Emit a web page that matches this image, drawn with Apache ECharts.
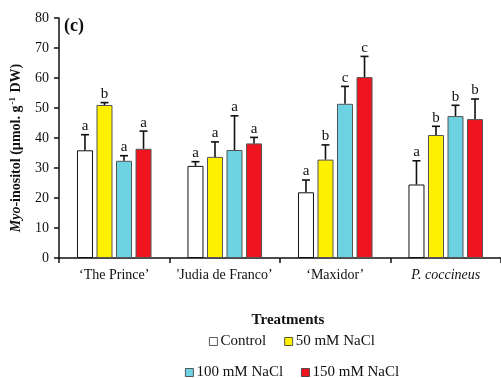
<!DOCTYPE html>
<html>
<head>
<meta charset="utf-8">
<script src="https://cdn.jsdelivr.net/npm/echarts@6/dist/echarts.min.js"></script>
<style>
  html, body { margin: 0; padding: 0; background: #fff; }
  #chart { width: 501px; height: 378px; }
</style>
</head>
<body>
<div id="chart"></div>
<script>
// Cultivars on the x axis
const categories = ['\u2018The Prince\u2019', '\'Judia de Franco\u2019', '\u2018Maxidor\u2019', 'P. coccineus'];

// Treatment names
const treatments = ['Control', '50 mM NaCl', '100 mM NaCl', '150 mM NaCl'];

// Mean myo-inositol (µmol g-1 DW) per treatment, one value per cultivar
const controlMean = [35.9, 30.7, 21.9, 24.5];
const nacl50Mean  = [51.0, 33.7, 32.8, 41.0];
const nacl100Mean = [32.4, 36.0, 51.4, 47.3];
const nacl150Mean = [36.4, 38.2, 60.3, 46.3];

// Standard deviation (upper whisker length)
const controlSd = [5.2, 1.4, 4.1, 7.9];
const nacl50Sd  = [0.8, 5.0, 4.9, 2.9];
const nacl100Sd = [1.7, 11.4, 5.8, 3.6];
const nacl150Sd = [5.9, 2.0, 6.9, 6.7];

// Significance letters
const controlLetters = ['a', 'a', 'a', 'a'];
const nacl50Letters  = ['b', 'a', 'b', 'b'];
const nacl100Letters = ['a', 'a', 'c', 'b'];
const nacl150Letters = ['a', 'a', 'c', 'b'];

const yTicks = { min: 0, max: 80, interval: 10 };

const means = [controlMean, nacl50Mean, nacl100Mean, nacl150Mean];
const sds = [controlSd, nacl50Sd, nacl100Sd, nacl150Sd];
const letters = [controlLetters, nacl50Letters, nacl100Letters, nacl150Letters];
const colors = ['#ffffff', '#fff000', '#6dd3e3', '#f0141e'];
const borders = ['#111111', '#555555', '#555555', '#555555'];

const FONT = '"Liberation Serif", "Times New Roman", serif';
const BAR_W = 16;
const BAR_GAP = 0.22;

const chart = echarts.init(document.getElementById('chart'), null, { renderer: 'canvas' });

const barSeries = treatments.map((name, i) => ({
  name: name,
  type: 'bar',
  barWidth: BAR_W,
  barGap: (BAR_GAP * 100) + '%',
  data: means[i],
  itemStyle: { color: colors[i], borderColor: borders[i], borderWidth: 1 },
  emphasis: { disabled: true },
  z: 2
}));

// Upper error whiskers and letters, placed over each bar
const errSeries = treatments.map((name, i) => ({
  type: 'custom',
  silent: true,
  z: 3,
  data: means[i].map((m, j) => [j, m, +(m + sds[i][j]).toFixed(2)]),
  renderItem: function (params, api) {
    const step = BAR_W * (1 + BAR_GAP);
    const offset = (i - 1.5) * step;
    const base = api.coord([api.value(0), api.value(1)]);
    const top = api.coord([api.value(0), api.value(2)]);
    const x = base[0] + offset;
    const ls = { stroke: '#111', lineWidth: 1.6 };
    return {
      type: 'group',
      children: [
        { type: 'line', shape: { x1: x, y1: base[1], x2: x, y2: top[1] }, style: ls },
        { type: 'line', shape: { x1: x - 4, y1: top[1], x2: x + 4, y2: top[1] }, style: ls },
        {
          type: 'text',
          style: {
            x: x, y: top[1] - 1,
            text: letters[i][params.dataIndex],
            font: '15px ' + FONT,
            fill: '#111',
            align: 'center',
            verticalAlign: 'bottom'
          }
        }
      ]
    };
  }
}));

const legendBase = {
  padding: 0,
  itemWidth: 8, itemHeight: 8, itemGap: 18,
  icon: 'rect',
  selectedMode: false,
  itemStyle: { borderWidth: 0.8, borderColor: '#333' },
  textStyle: { fontFamily: FONT, fontSize: 15, color: '#111', padding: [0, 0, 0, -2] }
};

const option = {
  animation: false,
  backgroundColor: '#ffffff',
  grid: { left: 59, top: 18, width: 450, height: 240 },
  xAxis: {
    type: 'category',
    data: categories,
    axisLine: { lineStyle: { color: '#111', width: 1.5 } },
    axisTick: { show: true, length: 5, lineStyle: { color: '#111', width: 1.5 } },
    axisLabel: {
      interval: 0,
      hideOverlap: false,
      margin: 10,
      color: '#111',
      fontFamily: FONT,
      fontSize: 14,
      formatter: function (v, idx) {
        return idx === 3 ? '{it|' + v + '}' : v;
      },
      rich: { it: { fontStyle: 'italic', fontFamily: FONT, fontSize: 14, color: '#111' } }
    }
  },
  yAxis: {
    type: 'value',
    min: yTicks.min,
    max: yTicks.max,
    interval: yTicks.interval,
    splitLine: { show: false },
    axisLine: { show: true, lineStyle: { color: '#111', width: 1.5 } },
    axisTick: { show: true, length: 5, lineStyle: { color: '#111', width: 1.5 } },
    axisLabel: { margin: 10, color: '#111', fontFamily: FONT, fontSize: 14 }
  },
  legend: [
    Object.assign({ data: treatments.slice(0, 2), left: 209, top: 334 }, legendBase),
    Object.assign({ data: treatments.slice(2, 4), left: 185, top: 365 }, legendBase)
  ],
  graphic: [
    {
      type: 'text', x: 64, y: 17,
      style: { text: '(c)', font: 'bold 18px ' + FONT, fill: '#111' }
    },
    {
      type: 'text', x: 288, y: 320,
      style: { text: 'Treatments', font: 'bold 15px ' + FONT, fill: '#111', align: 'center', verticalAlign: 'middle' }
    },
    {
      type: 'text',
      x: 16, y: 148,
      rotation: Math.PI / 2,
      style: {
        text: '{i|Myo}{b|-inositol (\u00b5mol. g}{s|-1}{b| DW)}',
        align: 'center',
        verticalAlign: 'middle',
        rich: {
          i: { font: 'bold italic 14px ' + FONT, fill: '#111', lineHeight: 16 },
          b: { font: 'bold 14px ' + FONT, fill: '#111', lineHeight: 16 },
          s: { font: 'bold 9px ' + FONT, fill: '#111', verticalAlign: 'top', lineHeight: 16, padding: [0, 1, 6, 1] }
        }
      }
    }
  ],
  series: barSeries.concat(errSeries)
};

chart.setOption(option);
</script>
</body>
</html>
